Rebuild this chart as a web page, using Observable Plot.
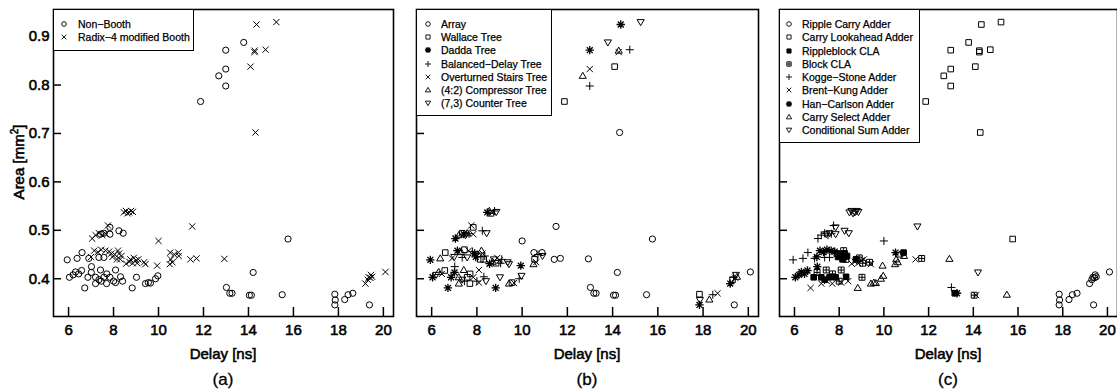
<!DOCTYPE html>
<html><head><meta charset="utf-8">
<script src="https://cdn.jsdelivr.net/npm/d3@7"></script>
<script src="https://cdn.jsdelivr.net/npm/@observablehq/plot@0.6"></script>
<style>
body{margin:0;width:1117px;height:390px;overflow:hidden;background:#fff;font-family:"Liberation Sans",Arial,sans-serif;color:#000;position:relative;}
.panel{position:absolute;top:0;}
.panel svg{max-width:none !important;}
.lab{position:absolute;font-size:15px;text-align:center;line-height:18px;white-space:nowrap;-webkit-text-stroke:0.55px #000;}
.cap{position:absolute;font-size:17px;text-align:center;line-height:20px;-webkit-text-stroke:0.3px #000;}
.legend{position:absolute;border:1.5px solid #000;background:#fff;box-sizing:border-box;}
.legend .row{position:absolute;white-space:nowrap;font-size:10.5px;line-height:14px;-webkit-text-stroke:0.25px #000;}
.legend svg{position:absolute;overflow:visible;}
</style></head><body>
<script>
// ---------- data ----------
const xTicks = [6, 8, 10, 12, 14, 16, 18, 20];
const yTicks = [0.4, 0.5, 0.6, 0.7, 0.8, 0.9];
const boothTypes = ["Non\u2212Booth", "Radix\u22124 modified Booth"];
const treeTypes = ["Array", "Wallace Tree", "Dadda Tree", "Balanced\u2212Delay Tree", "Overturned Stairs Tree", "(4:2) Compressor Tree", "(7,3) Counter Tree"];
const adderTypes = ["Ripple Carry Adder", "Carry Lookahead Adder", "Rippleblock CLA", "Block CLA", "Kogge\u2212Stone Adder", "Brent\u2212Kung Adder", "Han\u2212Carlson Adder", "Carry Select Adder", "Conditional Sum Adder"];

// [delay ns, area mm², booth (0 non / 1 radix-4), tree index]
const rippleCarry = [[19.38,0.346,0,0],[17.84,0.368,0,1],[17.84,0.346,0,2],[18.43,0.367,0,3],[18.64,0.370,0,4],[18.28,0.357,0,5],[17.86,0.356,0,6],
  [20.09,0.414,1,0],[19.30,0.398,1,1],[19.20,0.390,1,2],[19.35,0.403,1,3],[19.42,0.402,1,4],[19.50,0.404,1,5],[19.45,0.408,1,6]];
const carryLookahead = [[15.76,0.482,0,0],[11.87,0.766,0,1],[12.99,0.872,0,2],[12.99,0.798,0,3],[12.99,0.833,0,4],[12.68,0.819,0,5],[13.79,0.888,0,6],
  [14.31,0.702,1,0],[14.09,0.838,1,1],[14.36,0.925,1,2],[14.76,0.873,1,3],[14.27,0.868,1,4],[14.27,0.871,1,5],[15.24,0.930,1,6]];
const rippleblockCLA = [[13.17,0.370,0,0],[7.57,0.403,0,1],[6.86,0.403,0,2],[8.31,0.404,0,3],[7.84,0.403,0,4],[7.20,0.403,0,5],[7.35,0.398,0,6],
  [10.88,0.454,1,0],[8.15,0.440,1,1],[7.95,0.445,1,2],[8.35,0.447,1,3],[8.25,0.452,1,4],[8.05,0.450,1,5],[8.75,0.440,1,6]];
const blockCLA = [[14.04,0.366,0,0],[7.70,0.410,0,1],[7.01,0.413,0,2],[8.00,0.395,0,3],[8.09,0.418,0,4],[7.42,0.418,0,5],[9.02,0.403,0,6],
  [11.69,0.442,1,0],[8.30,0.440,1,1],[7.90,0.452,1,2],[9.05,0.432,1,3],[8.90,0.443,1,4],[8.20,0.458,1,5],[9.36,0.434,1,6]];
const koggeStone = [[13.02,0.382,0,0],[6.60,0.454,0,1],[5.94,0.439,0,2],[7.35,0.444,0,3],[6.90,0.442,0,4],[6.38,0.442,0,5],[7.57,0.444,0,6],
  [10.00,0.478,1,0],[7.35,0.494,1,1],[7.05,0.483,1,2],[7.65,0.493,1,3],[7.75,0.510,1,4],[7.20,0.490,1,5],[7.50,0.490,1,6]];
const brentKung = [[14.13,0.366,0,0],[7.69,0.390,0,1],[6.72,0.381,0,2],[7.45,0.395,0,3],[8.09,0.392,0,4],[7.20,0.390,0,5],[8.40,0.395,0,6],
  [11.42,0.440,1,0],[8.85,0.432,1,1],[8.56,0.431,1,2],[9.10,0.440,1,3],[9.00,0.438,1,4],[8.70,0.435,1,5],[9.42,0.430,1,6]];
const hanCarlson = [[13.27,0.370,0,0],[6.58,0.417,0,1],[6.04,0.403,0,2],[7.02,0.425,0,3],[6.45,0.410,0,4],[6.31,0.414,0,5],[6.20,0.408,0,6],
  [10.52,0.454,1,0],[7.45,0.460,1,1],[7.14,0.458,1,2],[7.80,0.456,1,3],[7.64,0.458,1,4],[7.30,0.455,1,5],[7.00,0.445,1,6]];
const carrySelect = [[15.50,0.367,0,0],[9.55,0.392,0,1],[8.83,0.381,0,2],[9.87,0.400,0,3],[9.64,0.391,0,4],[9.42,0.390,0,5],[9.97,0.406,0,6],
  [12.93,0.441,1,0],[10.55,0.440,1,1],[9.94,0.427,1,2],[10.70,0.450,1,3],[10.62,0.434,1,4],[10.50,0.430,1,5],[10.90,0.447,1,6]];
const conditionalSum = [[14.21,0.413,0,0],[7.84,0.506,0,1],[7.42,0.492,0,2],[8.24,0.499,0,3],[7.84,0.492,0,4],[7.57,0.494,0,5],[8.43,0.494,0,6],
  [11.50,0.508,1,0],[8.62,0.535,1,1],[8.46,0.537,1,2],[8.78,0.540,1,3],[8.70,0.537,1,4],[8.55,0.540,1,5],[8.86,0.538,1,6]];

const adderData = [rippleCarry, carryLookahead, rippleblockCLA, blockCLA, koggeStone, brentKung, hanCarlson, carrySelect, conditionalSum];
const rows = [];
adderData.forEach((arr, ai) => arr.forEach(([delay, area, booth, tree]) => rows.push({delay, area, booth, tree, adder: ai})));

// ---------- symbols ----------
function mk(fn){ return {draw(ctx, size){ const r = Math.sqrt(size / Math.PI); fn(ctx, r); }}; }
const S = {
  circle: mk((c,r)=>{ c.moveTo(r,0); c.arc(0,0,r,0,2*Math.PI); }),
  square: mk((c,r)=>{ const s=r*0.9; c.rect(-s,-s,2*s,2*s); }),
  boxplus: mk((c,r)=>{ const s=r*0.95; c.rect(-s,-s,2*s,2*s); c.moveTo(-s,0); c.lineTo(s,0); c.moveTo(0,-s); c.lineTo(0,s); }),
  plus: mk((c,r)=>{ const s=r*1.3; c.moveTo(-s,0); c.lineTo(s,0); c.moveTo(0,-s); c.lineTo(0,s); }),
  times: mk((c,r)=>{ const s=r*1.0; c.moveTo(-s,-s); c.lineTo(s,s); c.moveTo(-s,s); c.lineTo(s,-s); }),
  aster: mk((c,r)=>{ const s=r*1.35; for(let k=0;k<4;k++){ const a=k*Math.PI/4; c.moveTo(-s*Math.cos(a),-s*Math.sin(a)); c.lineTo(s*Math.cos(a),s*Math.sin(a)); } }),
  triUp: mk((c,r)=>{ const s=r*1.15; c.moveTo(0,-s); c.lineTo(s,s*0.7); c.lineTo(-s,s*0.7); c.closePath(); }),
  triDown: mk((c,r)=>{ const s=r*1.15; c.moveTo(0,s); c.lineTo(s,-s*0.7); c.lineTo(-s,-s*0.7); c.closePath(); })
};
const boothStyle = [{sym:S.circle},{sym:S.times}];
const treeStyle = [{sym:S.circle},{sym:S.square},{sym:S.aster,sw:1.3},{sym:S.plus},{sym:S.times},{sym:S.triUp},{sym:S.triDown}];
const adderStyle = [{sym:S.circle},{sym:S.square},{sym:S.square,fill:"#000"},{sym:S.boxplus},{sym:S.plus},{sym:S.times},{sym:S.aster,sw:1.3},{sym:S.triUp},{sym:S.triDown}];

const xDomain = [5.33, 20.45];
const yDomain = [0.322, 0.956];

function makePanel(cfg){
  const marks = [
    Plot.frame({stroke:"#000", strokeWidth:1.6}),
    Plot.axisX({ticks:xTicks, tickSize:-9, tickPadding:17, strokeWidth:1.5, label:null, tickFormat:d=>String(d)}),
    Plot.axisY({ticks:yTicks, tickSize:-8, tickPadding:12, strokeWidth:1.5, label:null, tickFormat: cfg.showY ? (d=>d.toFixed(1)) : (()=>"")})
  ];
  cfg.styles.forEach((st, k) => {
    marks.push(Plot.dot(rows.filter(r => cfg.key(r) === k), {
      x:"delay", y:"area", symbol:st.sym, r:3.1, stroke:"#000", fill:st.fill || "none", strokeWidth:st.sw || 1
    }));
  });
  const W = cfg.ml + cfg.pw + cfg.mr;
  const svg = Plot.plot({
    width: W, height: 340,
    marginLeft: cfg.ml, marginRight: cfg.mr, marginTop: 9, marginBottom: 24,
    x:{domain:xDomain}, y:{domain:yDomain},
    style:{fontSize:"15px", fontFamily:"'Liberation Sans', Arial, sans-serif", color:"#000", background:"transparent", overflow:"visible", maxWidth:"none"},
    marks
  });
  // thicken tick label glyphs slightly (scanned-print weight)
  svg.querySelectorAll("g[aria-label$='tick label'] text").forEach(t => {
    t.setAttribute("stroke", "#000"); t.setAttribute("stroke-width", "0.55");
  });
  const wrap = document.createElement("div");
  wrap.className = "panel";
  wrap.style.left = (cfg.plotLeft - cfg.ml) + "px";
  wrap.style.width = W + "px";
  wrap.appendChild(svg);
  document.body.appendChild(wrap);

  const cx = cfg.plotLeft + cfg.pw / 2;
  const lab = document.createElement("div");
  lab.className = "lab"; lab.textContent = "Delay [ns]";
  lab.style.left = (cx - 60) + "px"; lab.style.width = "120px"; lab.style.top = "345px";
  document.body.appendChild(lab);
  const cap = document.createElement("div");
  cap.className = "cap"; cap.textContent = cfg.caption;
  cap.style.left = (cx - 30) + "px"; cap.style.width = "60px"; cap.style.top = "370px";
  document.body.appendChild(cap);

  // legend
  const lg = document.createElement("div");
  lg.className = "legend";
  Object.assign(lg.style, {left: cfg.plotLeft + "px", top: "9px", width: cfg.lw + "px", height: cfg.lh + "px"});
  cfg.labels.forEach((t, i) => {
    const yc = 14 + i * cfg.step;
    const st = cfg.styles[i];
    const p = d3.path(); st.sym.draw(p, Math.PI * 2.3 * 2.3);
    const s = d3.create("svg").attr("width", 1).attr("height", 1)
      .style("left", cfg.sx + "px").style("top", yc + "px");
    s.append("path").attr("d", p.toString()).attr("stroke", "#000")
      .attr("stroke-width", st.sw ? 1.3 : 0.9).attr("fill", st.fill || "none");
    lg.appendChild(s.node());
    const row = document.createElement("div");
    row.className = "row"; row.textContent = t;
    row.style.left = cfg.tx + "px"; row.style.top = (yc - 7) + "px";
    lg.appendChild(row);
  });
  document.body.appendChild(lg);
}

makePanel({plotLeft:53, pw:340, ml:53, mr:7, showY:true, key:r=>r.booth, styles:boothStyle, labels:boothTypes,
  caption:"(a)", lw:141, lh:42, step:13.2, sx:10, tx:24});
makePanel({plotLeft:416, pw:342, ml:10, mr:8, showY:false, key:r=>r.tree, styles:treeStyle, labels:treeTypes,
  caption:"(b)", lw:136, lh:107, step:13.2, sx:11, tx:24});
makePanel({plotLeft:779, pw:338, ml:10, mr:10, showY:false, key:r=>r.adder, styles:adderStyle, labels:adderTypes,
  caption:"(c)", lw:141, lh:134, step:13.25, sx:9, tx:22});

// y label
const yl = document.createElement("div");
yl.className = "lab"; yl.innerHTML = "Area [mm<sup style='font-size:10px;line-height:0'>2</sup>]";
Object.assign(yl.style, {left:"-41px", top:"153px", width:"120px", transform:"rotate(-90deg)"});
document.body.appendChild(yl);
</script>
</body></html>
